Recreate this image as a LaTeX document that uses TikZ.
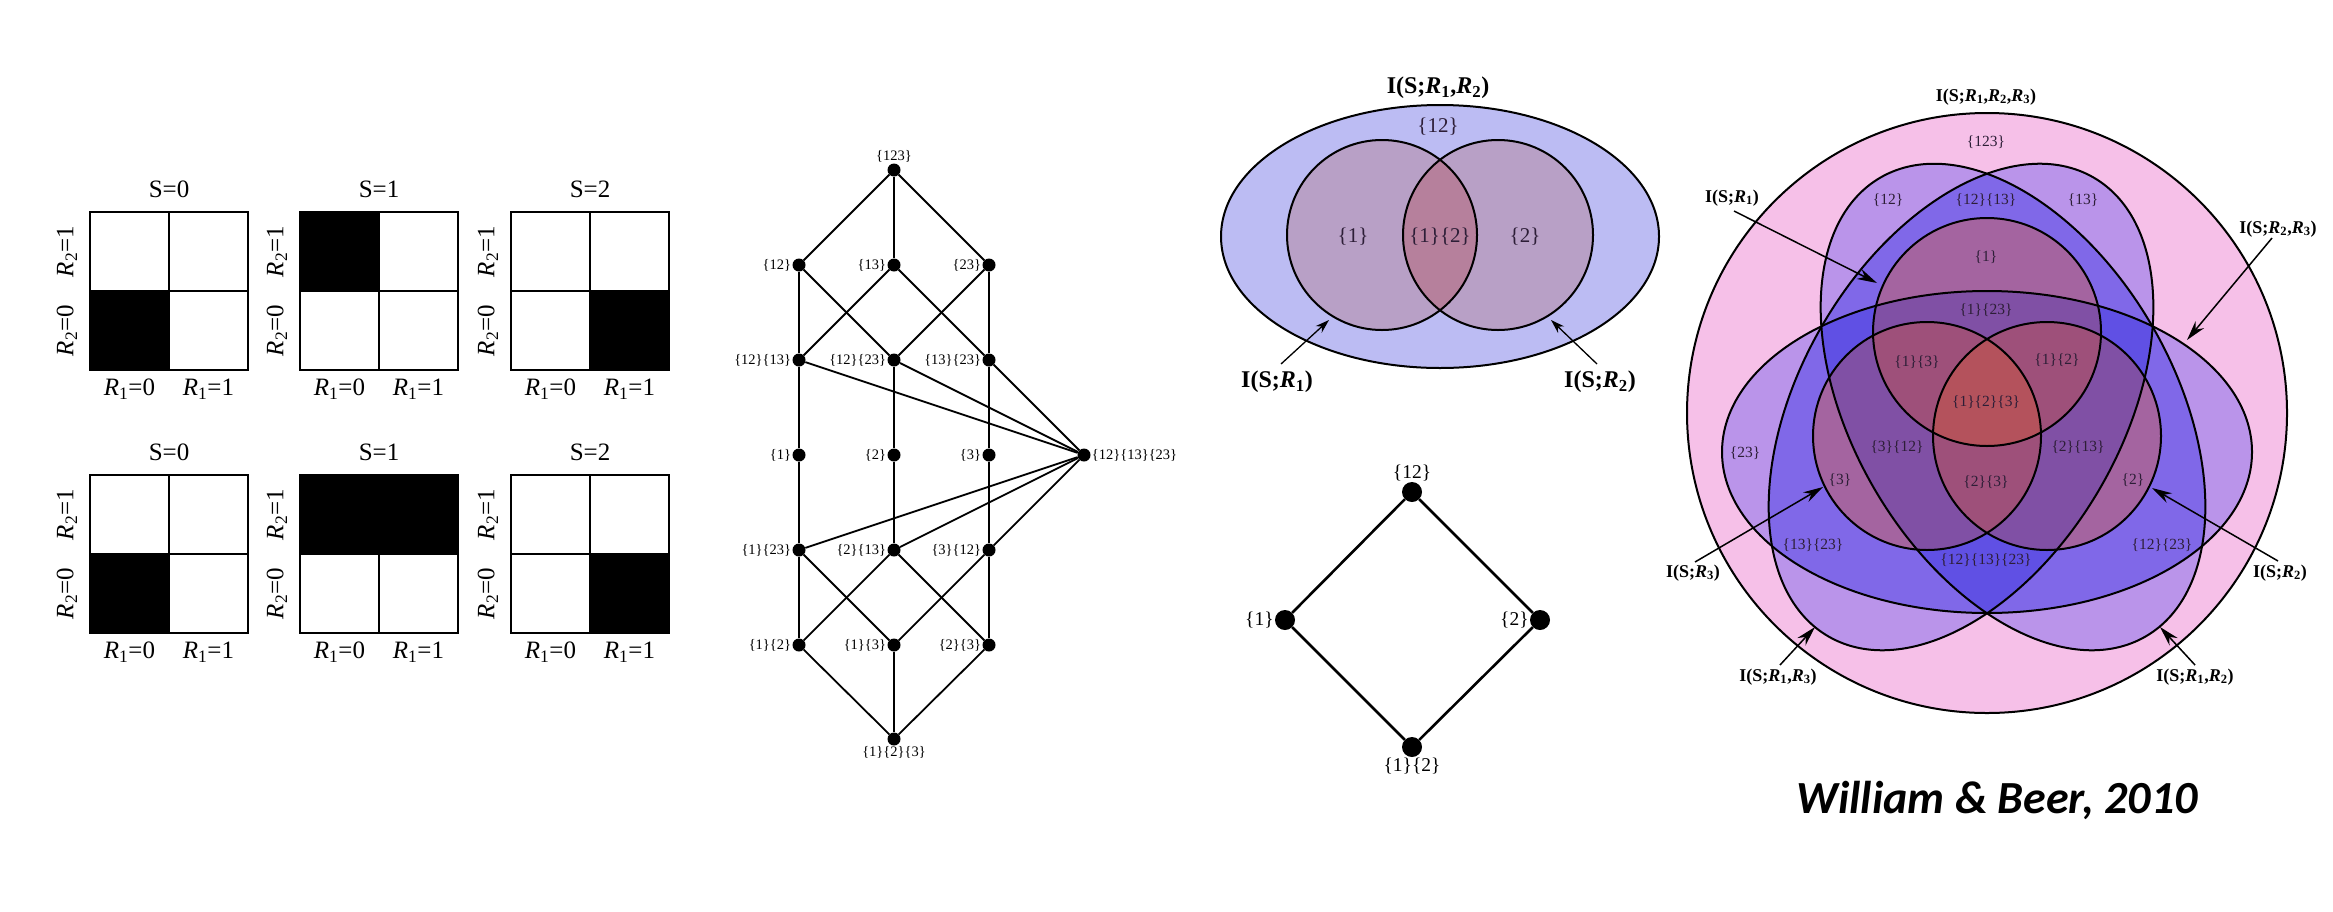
\documentclass[tikz,border=0pt]{standalone}
\usepackage{fontspec}
\setmainfont{Liberation Serif}
\newfontfamily\carlitofont{Carlito}
\usetikzlibrary{arrows.meta}
\newcommand\Rsub[1]{\textit{R}\textsubscript{#1}}
\newcommand\ellpath[1]{(#1) ellipse [x radius=265pt, y radius=161pt]}
\definecolor{pinkbg}{RGB}{246,192,232}
\definecolor{lav}{RGB}{186,148,234}
\definecolor{blueii}{RGB}{128,104,232}
\definecolor{blueiii}{RGB}{96,80,228}
\definecolor{mauve}{RGB}{164,100,160}
\definecolor{purp}{RGB}{128,80,165}
\definecolor{redmauve}{RGB}{158,80,122}
\definecolor{redc}{RGB}{180,82,92}
\definecolor{vtell}{RGB}{188,188,243}
\definecolor{vtcirc}{RGB}{184,160,198}
\definecolor{vtlens}{RGB}{182,128,156}
\definecolor{lbltxt}{RGB}{45,30,55}
\begin{document}
\begin{tikzpicture}[x=1pt,y=-1pt,
  cellbox/.style={line width=2.4pt},
  gridlbl/.style={font=\fontsize{25}{28}\selectfont, inner sep=0pt},
  latdot/.style={circle, fill=black, inner sep=0pt, minimum size=13pt},
  latlbl/.style={font=\fontsize{14.5}{16}\selectfont, inner sep=1pt},
  latedge/.style={line width=1.8pt},
  diadot/.style={circle, fill=black, inner sep=0pt, minimum size=20pt},
  dialbl/.style={font=\fontsize{19.5}{22}\selectfont, inner sep=1pt},
  diaedge/.style={line width=2.6pt},
  vline/.style={line width=2pt},
  vtwolbl/.style={font=\fontsize{21}{24}\selectfont, text=lbltxt, inner sep=0pt},
  vtwobold/.style={font=\fontsize{24}{27}\selectfont\bfseries, inner sep=0pt},
  vthrlbl/.style={font=\fontsize{15.5}{18}\selectfont, text=lbltxt, inner sep=0pt},
  vthrbold/.style={font=\fontsize{18}{21}\selectfont\bfseries, inner sep=0pt},
  varrtwo/.style={line width=1.3pt, -{Stealth[length=14pt, width=9pt]}},
  varrthr/.style={line width=1.5pt, -{Stealth[length=20pt, width=11pt]}}
]
\useasboundingbox (0,0) rectangle (2333,911);
\fill[white] (0,0) rectangle (2333,911);

% ---------------- panel 1: grids ----------------
\fill (90,291) rectangle (169,370);
\fill (300,212) rectangle (379,291);
\fill (590,291) rectangle (669,370);
\fill (90,554) rectangle (169,633);
\fill (300,475) rectangle (458,554);
\fill (590,554) rectangle (669,633);
\foreach \L/\T/\s/\i in {90/212/0/a, 300/212/1/b, 511/212/2/c, 90/475/0/d, 300/475/1/e, 511/475/2/f} {
  \draw[cellbox] (\L,\T) rectangle ++(158,158);
  \draw[cellbox] (\L+79,\T) -- ++(0,158);
  \draw[cellbox] (\L,\T+79) -- ++(158,0);
  \node[gridlbl] (S\i) at (\L+79,\T-22.5) {S=\s};
  \node[gridlbl, rotate=90] (RtwoOne\i) at (\L-23,\T+39.5) {\Rsub{2}=1};
  \node[gridlbl, rotate=90] (RtwoZero\i) at (\L-23,\T+118.5) {\Rsub{2}=0};
  \node[gridlbl] (RoneZero\i) at (\L+39.5,\T+177) {\Rsub{1}=0};
  \node[gridlbl] (RoneOne\i) at (\L+118.5,\T+177) {\Rsub{1}=1};
}

% ---------------- panel 2: lattice ----------------
\node[latdot, label={[latlbl]above:\{123\}}] (t) at (894,170) {};
\node[latdot, label={[latlbl]left:\{12\}}] (a12) at (799,265) {};
\node[latdot, label={[latlbl]left:\{13\}}] (a13) at (894,265) {};
\node[latdot, label={[latlbl]left:\{23\}}] (a23) at (989,265) {};
\node[latdot, label={[latlbl]left:\{12\}\{13\}}] (b1213) at (799,360) {};
\node[latdot, label={[latlbl]left:\{12\}\{23\}}] (b1223) at (894,360) {};
\node[latdot, label={[latlbl]left:\{13\}\{23\}}] (b1323) at (989,360) {};
\node[latdot, label={[latlbl]left:\{1\}}] (c1) at (799,455) {};
\node[latdot, label={[latlbl]left:\{2\}}] (c2) at (894,455) {};
\node[latdot, label={[latlbl]left:\{3\}}] (c3) at (989,455) {};
\node[latdot, label={[latlbl]right:\{12\}\{13\}\{23\}}] (r) at (1084,455) {};
\node[latdot, label={[latlbl]left:\{1\}\{23\}}] (d123) at (799,550) {};
\node[latdot, label={[latlbl]left:\{2\}\{13\}}] (d213) at (894,550) {};
\node[latdot, label={[latlbl]left:\{3\}\{12\}}] (d312) at (989,550) {};
\node[latdot, label={[latlbl]left:\{1\}\{2\}}] (e12) at (799,645) {};
\node[latdot, label={[latlbl]left:\{1\}\{3\}}] (e13) at (894,645) {};
\node[latdot, label={[latlbl]left:\{2\}\{3\}}] (e23) at (989,645) {};
\node[latdot, label={[latlbl]below:\{1\}\{2\}\{3\}}] (bt) at (894,739) {};
\foreach \p/\q in {t/a12, t/a13, t/a23, a12/b1213, a12/b1223, a13/b1213, a13/b1323,
  a23/b1223, a23/b1323, b1213/c1, b1223/c2, b1323/c3, b1213/r, b1223/r, b1323/r,
  c1/d123, c2/d213, c3/d312, r/d123, r/d213, r/d312, d123/e12, d123/e13,
  d213/e12, d213/e23, d312/e13, d312/e23, e12/bt, e13/bt, e23/bt}
  \draw[latedge] (\p) -- (\q);

% ---------------- panel 3a: two-variable Venn ----------------
\fill[vtell] (1440,236.5) ellipse [x radius=219pt, y radius=131.5pt];
\fill[vtcirc] (1382,235) circle [radius=95pt];
\fill[vtcirc] (1498,235) circle [radius=95pt];
\begin{scope}
  \clip (1382,235) circle [radius=95pt];
  \fill[vtlens] (1498,235) circle [radius=95pt];
\end{scope}
\draw[vline] (1440,236.5) ellipse [x radius=219pt, y radius=131.5pt];
\draw[vline] (1382,235) circle [radius=95pt];
\draw[vline] (1498,235) circle [radius=95pt];
\node[vtwobold] (vtitle) at (1438,88) {I(S;\Rsub{1},\Rsub{2})};
\node[vtwolbl] (v12) at (1438,127) {\{12\}};
\node[vtwolbl] (v1) at (1353,237) {\{1\}};
\node[vtwolbl] (v1v2) at (1440,237) {\{1\}\{2\}};
\node[vtwolbl] (v2) at (1525,237) {\{2\}};
\node[vtwobold] (vI1) at (1277,382) {I(S;\Rsub{1})};
\node[vtwobold] (vI2) at (1600,382) {I(S;\Rsub{2})};
\coordinate (vI1s) at (1281,364);
\coordinate (vI1t) at (1329,320);
\coordinate (vI2s) at (1597,364);
\coordinate (vI2t) at (1551,320);
\draw[varrtwo] (vI1s) -- (vI1t);
\draw[varrtwo] (vI2s) -- (vI2t);

% ---------------- panel 3b: diamond ----------------
\node[diadot, label={[dialbl]above:\{12\}}] (dt) at (1412,492) {};
\node[diadot, label={[dialbl]left:\{1\}}] (dl) at (1285,620) {};
\node[diadot, label={[dialbl]left:\{2\}}] (dr) at (1540,620) {};
\node[diadot, label={[dialbl]below:\{1\}\{2\}}] (db) at (1412,747) {};
\draw[diaedge] (dt) -- (dl);
\draw[diaedge] (dt) -- (dr);
\draw[diaedge] (dl) -- (db);
\draw[diaedge] (dr) -- (db);

% ---------------- panel 4: three-variable Venn ----------------
\coordinate (O3) at (1987,413);
\coordinate (cH) at (1987,452);
\coordinate (cB) at (2013,407);
\coordinate (cG) at (1961,407);
\coordinate (k1) at (1987,332);
\coordinate (k2) at (2047,436);
\coordinate (k3) at (1927,436);
\fill[pinkbg] (O3) circle [radius=300pt];
\fill[lav] \ellpath{cH};
\fill[lav, rotate around={-60:(cB)}] \ellpath{cB};
\fill[lav, rotate around={60:(cG)}] \ellpath{cG};
\begin{scope}
  \clip \ellpath{cH};
  \fill[blueii, rotate around={-60:(cB)}] \ellpath{cB};
  \fill[blueii, rotate around={60:(cG)}] \ellpath{cG};
\end{scope}
\begin{scope}
  \clip[rotate around={-60:(cB)}] \ellpath{cB};
  \fill[blueii, rotate around={60:(cG)}] \ellpath{cG};
\end{scope}
\begin{scope}
  \clip \ellpath{cH};
  \clip[rotate around={-60:(cB)}] \ellpath{cB};
  \fill[blueiii, rotate around={60:(cG)}] \ellpath{cG};
\end{scope}
\foreach \c in {k1,k2,k3} \fill[mauve] (\c) circle [radius=114pt];
\begin{scope}
  \clip (k1) circle [radius=114pt];
  \fill[purp] \ellpath{cH};
\end{scope}
\begin{scope}
  \clip (k2) circle [radius=114pt];
  \fill[purp, rotate around={60:(cG)}] \ellpath{cG};
\end{scope}
\begin{scope}
  \clip (k3) circle [radius=114pt];
  \fill[purp, rotate around={-60:(cB)}] \ellpath{cB};
\end{scope}
\begin{scope}
  \clip (k1) circle [radius=114pt];
  \fill[redmauve] (k2) circle [radius=114pt];
  \fill[redmauve] (k3) circle [radius=114pt];
\end{scope}
\begin{scope}
  \clip (k2) circle [radius=114pt];
  \fill[redmauve] (k3) circle [radius=114pt];
\end{scope}
\begin{scope}
  \clip (k1) circle [radius=114pt];
  \clip (k2) circle [radius=114pt];
  \fill[redc] (k3) circle [radius=114pt];
\end{scope}
\draw[vline] (O3) circle [radius=300pt];
\draw[vline] \ellpath{cH};
\draw[vline, rotate around={-60:(cB)}] \ellpath{cB};
\draw[vline, rotate around={60:(cG)}] \ellpath{cG};
\foreach \c in {k1,k2,k3} \draw[vline] (\c) circle [radius=114pt];

\node[vthrbold] (wtitle) at (1986,97) {I(S;\Rsub{1},\Rsub{2},\Rsub{3})};
\node[vthrlbl] (w123) at (1986,142) {\{123\}};
\node[vthrlbl] (w12) at (1888,200) {\{12\}};
\node[vthrlbl] (w1213) at (1986,200) {\{12\}\{13\}};
\node[vthrlbl] (w13) at (2083,200) {\{13\}};
\node[vthrlbl] (w1) at (1986,257) {\{1\}};
\node[vthrlbl] (w123b) at (1986,310) {\{1\}\{23\}};
\node[vthrlbl] (w1w3) at (1917,362) {\{1\}\{3\}};
\node[vthrlbl] (w1w2) at (2057,360) {\{1\}\{2\}};
\node[vthrlbl] (w1w2w3) at (1986,402) {\{1\}\{2\}\{3\}};
\node[vthrlbl] (w312) at (1897,447) {\{3\}\{12\}};
\node[vthrlbl] (w213) at (2078,447) {\{2\}\{13\}};
\node[vthrlbl] (w23) at (1745,453) {\{23\}};
\node[vthrlbl] (w3) at (1840,480) {\{3\}};
\node[vthrlbl] (w2w3) at (1986,482) {\{2\}\{3\}};
\node[vthrlbl] (w2) at (2133,480) {\{2\}};
\node[vthrlbl] (w1323) at (1813,545) {\{13\}\{23\}};
\node[vthrlbl] (w121323) at (1986,560) {\{12\}\{13\}\{23\}};
\node[vthrlbl] (w1223) at (2162,545) {\{12\}\{23\}};

\node[vthrbold] (wI1) at (1732,198) {I(S;\Rsub{1})};
\node[vthrbold] (wI23) at (2278,229) {I(S;\Rsub{2},\Rsub{3})};
\node[vthrbold] (wI3) at (1693,573) {I(S;\Rsub{3})};
\node[vthrbold] (wI2) at (2280,573) {I(S;\Rsub{2})};
\node[vthrbold] (wI13) at (1778,677) {I(S;\Rsub{1},\Rsub{3})};
\node[vthrbold] (wI12) at (2195,677) {I(S;\Rsub{1},\Rsub{2})};
\coordinate (wI1s) at (1734,211);
\coordinate (wI1t) at (1877,283);
\coordinate (wI23s) at (2272,238);
\coordinate (wI23t) at (2187,340);
\coordinate (wI3s) at (1695,562);
\coordinate (wI3t) at (1823,487);
\coordinate (wI2s) at (2278,561);
\coordinate (wI2t) at (2152,488);
\coordinate (wI13s) at (1780,665);
\coordinate (wI13t) at (1815,627);
\coordinate (wI12s) at (2195,665);
\coordinate (wI12t) at (2160,627);
\draw[varrthr] (wI1s) -- (wI1t);
\draw[varrthr] (wI23s) -- (wI23t);
\draw[varrthr] (wI3s) -- (wI3t);
\draw[varrthr] (wI2s) -- (wI2t);
\draw[varrthr] (wI13s) -- (wI13t);
\draw[varrthr] (wI12s) -- (wI12t);

\node[font=\carlitofont\bfseries\itshape\fontsize{46}{50}\selectfont, inner sep=0pt] (cite) at (1997,800) {William \& Beer, 2010};
\end{tikzpicture}
\end{document}
